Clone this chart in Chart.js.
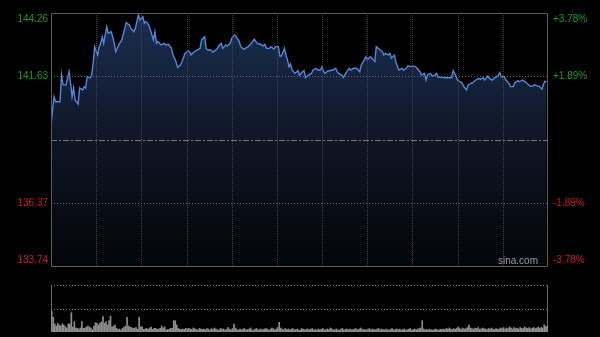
<!DOCTYPE html>
<html><head><meta charset="utf-8">
<script src="https://cdn.jsdelivr.net/npm/chart.js@4.4.1/dist/chart.umd.min.js"></script>
<style>
html,body{margin:0;padding:0;background:#000;overflow:hidden;width:600px;height:337px}
canvas{position:absolute;left:0}
#c1{top:0}#c2{top:270px}
</style></head>
<body>
<canvas id="c1" width="600" height="270"></canvas>
<canvas id="c2" width="600" height="67"></canvas>
<script>
// ---- data ----
const minutes = [0,2,3,6,7,8,10,12,13,14,15,16,18,19,21,22,23,24,26,27,28,29,31,32,33,34,35,36,37,38,40,41,42,43,45,47,49,50,52,53,55,56,58,59,61,62,63,65,
66,68,69,70,71,73,75,76,78,80,81,83,84,86,87,89,91,92,93,95,97,99,100,102,103,104,106,107,108,110,112,113,114,116,117,119,120,122,123,125,126,128,129,131,
133,135,137,139,141,142,143,145,146,148,149,151,152,153,155,156,157,158,159,160,162,164,165,167,168,169,171,173,174,176,177,179,180,181,182,184,185,187,189,190,191,193,194,196,198,
199,201,203,205,206,208,209,210,212,214,215,216,218,220,221,222,224,225,226,228,229,230,231,233,234,236,237,239,240,242,243,245,246,248,249,250,252,253,255,256,257,259,262,264,
266,267,268,269,270,272,273,274,275,276,277,279,280,282,284,285,287,288,290,291,293,294,296,297,298,299,301,302,304,305,307,308,310,311,313,315,316,318,320,321,323,324,326,327,328,329];
const prices = [139.60,140.78,140.57,140.57,141.68,141.27,141.27,141.82,141.35,140.78,
141.14,140.64,140.48,141.14,141.06,141.20,141.14,141.61,141.56,141.68,
142.18,142.86,142.51,142.86,143.00,143.27,143.00,143.35,143.69,143.42,
143.48,143.27,143.00,142.65,142.93,143.14,143.62,143.86,143.76,143.62,
143.48,143.62,144.18,143.97,144.11,143.83,143.90,143.76,
143.55,143.14,143.48,143.00,143.07,142.93,143.00,142.93,142.96,142.79,
142.51,142.24,142.00,142.10,142.24,142.58,142.69,142.65,142.51,142.65,
142.72,142.79,143.14,143.27,142.79,142.72,142.72,142.65,142.65,142.75,
142.93,143.00,142.79,142.93,142.89,143.00,143.21,143.35,143.27,143.07,
142.86,142.75,142.79,142.86,
143.00,143.17,143.00,142.96,142.89,142.96,142.79,142.79,142.86,142.76,
142.86,142.86,142.47,142.47,142.79,142.51,142.31,142.03,142.14,141.89,
141.75,141.86,141.68,141.82,141.86,141.57,141.68,141.75,141.89,141.96,
141.89,141.89,142.03,141.82,141.75,141.86,141.86,141.89,141.96,141.82,
141.75,141.68,141.57,141.78,141.96,
141.89,141.96,141.96,141.82,142.10,142.31,142.44,142.31,142.44,142.31,
142.24,142.86,142.75,142.65,142.51,142.58,142.51,142.58,142.38,142.51,
142.24,142.03,141.89,141.96,141.89,141.96,142.06,142.03,142.06,142.03,
141.96,141.82,141.68,141.75,141.47,141.68,141.75,141.64,141.68,141.75,
141.59,141.59,141.57,141.57,
141.57,141.86,141.75,141.61,141.45,141.40,141.34,141.20,141.13,141.06,
141.27,141.34,141.36,141.47,141.54,141.50,141.57,141.47,141.64,141.54,
141.47,141.54,141.61,141.68,141.78,141.61,141.61,141.47,141.34,141.20,
141.20,141.36,141.45,141.40,141.47,141.40,141.34,141.22,141.22,141.27,
141.22,141.22,141.09,141.31,141.43,141.40];
const volumes = [203,147,80,60,87,70,60,80,70,53,
40,80,80,193,50,103,40,37,30,40,
103,37,40,50,60,50,40,25,60,93,
87,70,90,100,153,87,103,70,113,160,
50,60,70,37,27,30,20,37,50,60,
147,60,50,45,37,40,45,27,147,50,
53,27,30,37,27,40,50,27,37,37,
27,30,37,60,40,50,20,25,27,37,
37,113,113,70,37,27,25,30,27,37,
30,37,30,27,40,33,27,20,37,30,
25,30,22,35,28,20,33,25,40,30,
22,18,35,28,30,20,25,45,30,22,
35,80,40,25,20,30,22,28,35,20,
25,30,40,22,18,28,35,20,25,30,
22,30,35,28,20,25,40,35,22,30,
45,97,40,28,20,35,25,30,22,28,
35,20,25,30,18,22,35,28,20,25,
30,22,28,35,20,25,18,30,22,28,
35,20,25,30,22,40,28,20,25,30,
22,18,28,35,20,25,30,22,28,20,
25,30,35,22,28,40,30,22,25,20,
28,35,22,30,25,20,28,35,22,30,
25,20,30,22,18,28,35,20,25,30,
22,28,20,25,30,18,22,28,35,20,
25,30,22,28,35,40,113,30,22,25,
20,28,22,18,25,30,22,20,28,25,
30,22,35,28,40,30,25,35,28,40,
50,35,28,40,30,35,45,70,40,35,
30,40,35,45,30,28,40,35,30,25,
35,28,40,30,25,35,28,30,40,35,
45,30,40,35,50,38,30,45,35,40,
30,45,38,35,50,40,35,45,30,38,
45,35,40,50,38,45,40,70,55,60];
const prevClose = 139.00;
const priceMin = 133.74, priceMax = 144.26;
const priceTicks = [144.26, 141.63, 136.37, 133.74];
const pctTicks = ['+3.78%', '+1.89%', '-1.89%', '-3.78%'];
const timeGrid = [30,60,90,120,150,180,210,240,270,300];
const totalMinutes = 330;
const volMax = 470;

// ---- main chart ----
const GREEN = '#1e9a1e', RED = '#cc1a1a';
const mainDeco = {
  id: 'mainDeco',
  afterDatasetsDraw(chart) {
    const {ctx, chartArea: a, scales: {x, y}} = chart;
    ctx.save();
    ctx.lineWidth = 1;
    ctx.strokeStyle = 'rgba(72,72,72,0.9)';
    ctx.setLineDash([1, 1]);
    timeGrid.forEach(m => {
      const px = Math.round(x.getPixelForValue(m)) + 0.5;
      ctx.beginPath(); ctx.moveTo(px, a.top); ctx.lineTo(px, a.bottom); ctx.stroke();
    });
    ctx.strokeStyle = 'rgba(110,110,110,0.9)';
    ctx.setLineDash([1, 2]);
    [priceTicks[1], priceTicks[2]].forEach(v => {
      const py = Math.round(y.getPixelForValue(v)) + 0.5;
      ctx.beginPath(); ctx.moveTo(a.left, py); ctx.lineTo(a.right, py); ctx.stroke();
    });
    ctx.strokeStyle = 'rgba(120,130,145,0.9)';
    ctx.setLineDash([6, 2, 2, 2]);
    const pc = Math.round(y.getPixelForValue(prevClose)) + 0.5;
    ctx.beginPath(); ctx.moveTo(a.left, pc); ctx.lineTo(a.right, pc); ctx.stroke();
    ctx.setLineDash([]);
    ctx.strokeStyle = '#5c5c5c';
    ctx.beginPath();
    ctx.moveTo(a.left + 0.5, a.top + 0.5); ctx.lineTo(a.right - 0.5, a.top + 0.5);
    ctx.lineTo(a.right - 0.5, a.bottom + 0.5); ctx.lineTo(a.left + 0.5, a.bottom + 0.5);
    ctx.closePath(); ctx.stroke();
    // labels
    ctx.font = '10px Arial, "Liberation Sans", sans-serif';
    priceTicks.forEach((v, i) => {
      let py = y.getPixelForValue(v);
      ctx.textBaseline = 'middle';
      if (i === 0) py += 6;
      if (i === priceTicks.length - 1) py -= 6;
      ctx.fillStyle = v > prevClose ? GREEN : RED;
      ctx.textAlign = 'right';
      ctx.fillText(v.toFixed(2), a.left - 3, py);
      ctx.textAlign = 'left';
      ctx.fillText(pctTicks[i], a.right + 5, py);
    });
    ctx.fillStyle = '#9a9a9a';
    ctx.textAlign = 'right';
    ctx.textBaseline = 'middle';
    ctx.fillText('sina.com', a.right - 10, a.bottom - 5);
    ctx.restore();
  }
};

new Chart(document.getElementById('c1'), {
  type: 'line',
  data: {
    datasets: [{
      data: minutes.map((m, i) => ({x: m, y: prices[i]})),
      borderColor: '#5088dc',
      borderWidth: 1.4,
      pointRadius: 0,
      tension: 0,
      fill: 'start',
      backgroundColor: (ctx) => {
        const a = ctx.chart.chartArea;
        if (!a) return 'rgba(25,40,70,1)';
        const g = ctx.chart.ctx.createLinearGradient(0, a.top, 0, a.bottom);
        g.addColorStop(0, 'rgba(28,46,82,1)');
        g.addColorStop(0.5, 'rgba(14,22,37,1)');
        g.addColorStop(1, 'rgba(4,5,8,1)');
        return g;
      }
    }]
  },
  options: {
    responsive: false, animation: false,
    layout: {padding: {left: 51, right: 52, top: 13, bottom: 4}},
    plugins: {legend: {display: false}, tooltip: {enabled: false}},
    scales: {
      x: {type: 'linear', min: 0, max: totalMinutes, display: false},
      y: {type: 'linear', min: priceMin, max: priceMax, display: false}
    }
  },
  plugins: [mainDeco]
});

// ---- volume chart ----
const volDeco = {
  id: 'volDeco',
  beforeDatasetsDraw(chart) {
    const {ctx, chartArea: a, scales: {y}} = chart;
    ctx.save();
    ctx.lineWidth = 1;
    ctx.strokeStyle = 'rgba(130,130,130,0.9)';
    ctx.setLineDash([1, 2]);
    [volMax, volMax / 2].forEach(v => {
      const py = Math.round(y.getPixelForValue(v)) + 0.5;
      ctx.beginPath(); ctx.moveTo(a.left, py); ctx.lineTo(a.right, py); ctx.stroke();
    });
    ctx.setLineDash([]);
    ctx.strokeStyle = '#6a6a6a';
    ctx.beginPath();
    ctx.moveTo(a.left + 0.5, a.top); ctx.lineTo(a.left + 0.5, a.bottom);
    ctx.moveTo(a.right - 0.5, a.top); ctx.lineTo(a.right - 0.5, a.bottom);
    ctx.stroke();
    ctx.restore();
  }
};

new Chart(document.getElementById('c2'), {
  type: 'bar',
  data: {
    datasets: [{
      data: volumes.map((v, i) => ({x: i + 0.5, y: v})),
      backgroundColor: '#8e8e8e',
      barThickness: 1,
      borderWidth: 0
    }]
  },
  options: {
    responsive: false, animation: false,
    layout: {padding: {left: 51, right: 52, top: 15, bottom: 5}},
    plugins: {legend: {display: false}, tooltip: {enabled: false}},
    scales: {
      x: {type: 'linear', min: 0, max: totalMinutes, offset: false, display: false},
      y: {min: 0, max: volMax, display: false}
    }
  },
  plugins: [volDeco]
});
</script>
</body></html>
